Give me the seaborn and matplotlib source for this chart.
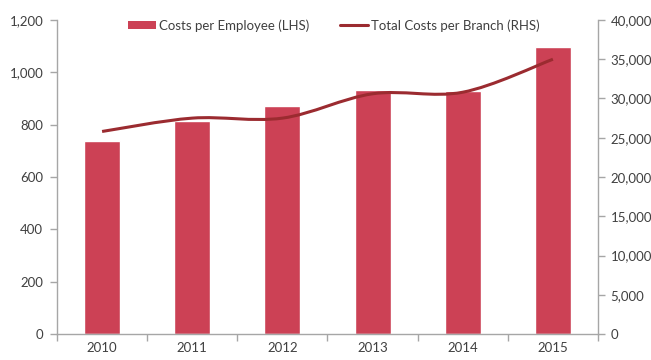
import matplotlib
matplotlib.use("Agg")
import matplotlib.pyplot as plt
from matplotlib.path import Path
from matplotlib.patches import PathPatch, Patch
from matplotlib.lines import Line2D
from matplotlib.ticker import FuncFormatter, MultipleLocator
import numpy as np
import pandas as pd
import seaborn as sns

# Annual cost figures
years = ["2010", "2011", "2012", "2013", "2014", "2015"]
costs_per_employee = [736, 813, 870, 932, 928, 1096]
total_costs_per_branch = [25800, 27500, 27500, 30600, 30800, 35000]

bar_color = "#CC4155"
line_color = "#9B2B30"
axis_gray = "#A6A6A6"
text_color = "#404040"
fs = 9.5

sns.set_theme(style="white")
plt.rcParams["font.family"] = ["Lato", "DejaVu Sans"]

df = pd.DataFrame({"year": years, "emp": costs_per_employee, "branch": total_costs_per_branch})

fig = plt.figure(figsize=(6.51, 3.6), dpi=100)
ax = fig.add_axes([57 / 651, 26 / 360, 541 / 651, 314 / 360])

sns.barplot(data=df, x="year", y="emp", color=bar_color, saturation=1,
            width=0.4, ax=ax)
ax.set_xlim(-0.5, len(years) - 0.5)
ax.set_ylim(0, 1200)
ax.yaxis.set_major_locator(MultipleLocator(200))
ax.yaxis.set_major_formatter(FuncFormatter(lambda v, p: f"{int(v):,}"))
ax.set_xlabel("")
ax.set_ylabel("")

# Right axis with a smoothed (Bezier) branch-cost curve
ax2 = ax.twinx()
ax2.set_ylim(0, 40000)
ax2.yaxis.set_major_locator(MultipleLocator(5000))
ax2.yaxis.set_major_formatter(FuncFormatter(lambda v, p: f"{int(v):,}"))

xs = np.arange(len(years), dtype=float)
ys = np.array(total_costs_per_branch, dtype=float)
pts = np.column_stack([xs, ys])
verts = [tuple(pts[0])]
codes = [Path.MOVETO]
n = len(pts)
for i in range(n - 1):
    p0 = pts[max(i - 1, 0)]
    p1 = pts[i]
    p2 = pts[i + 1]
    p3 = pts[min(i + 2, n - 1)]
    c1 = p1 + (p2 - p0) / 6.0
    c2 = p2 - (p3 - p1) / 6.0
    verts += [tuple(c1), tuple(c2), tuple(p2)]
    codes += [Path.CURVE4] * 3
ax2.add_patch(PathPatch(Path(verts, codes), facecolor="none",
                        edgecolor=line_color, lw=2.2, capstyle="butt"))

# Spines and ticks
for a in (ax, ax2):
    for s in a.spines.values():
        s.set_visible(False)
ax.spines["left"].set_visible(True)
ax.spines["bottom"].set_visible(True)
ax2.spines["right"].set_visible(True)
for s in (ax.spines["left"], ax.spines["bottom"], ax2.spines["right"]):
    s.set_color(axis_gray)
    s.set_linewidth(1.0)

ax.set_xticks(np.arange(-0.5, len(years), 1.0), minor=True)
ax.tick_params(axis="x", which="major", length=0, pad=6, labelsize=fs,
               labelcolor=text_color)
ax.tick_params(axis="x", which="minor", length=5, width=1, color=axis_gray,
               direction="out", bottom=True)
ax.tick_params(axis="y", length=5, width=1, color=axis_gray, direction="out",
               left=True, labelsize=fs, labelcolor=text_color, pad=5)
ax2.tick_params(axis="y", length=5, width=1, color=axis_gray, direction="out",
                right=True, labelsize=fs, labelcolor=text_color, pad=4)

handles = [Patch(facecolor=bar_color, edgecolor="none"),
           Line2D([0], [0], color=line_color, lw=2.2)]
labels = ["Costs per Employee (LHS)", "Total Costs per Branch (RHS)"]
ax2.legend(handles, labels, loc="center", bbox_to_anchor=(0.512, 0.983), ncol=2,
           frameon=False, fontsize=fs, handlelength=2.1, handleheight=0.6,
           handletextpad=0.25, columnspacing=2.3, labelcolor=text_color)

fig.savefig("out.png", dpi=100, facecolor="white")
